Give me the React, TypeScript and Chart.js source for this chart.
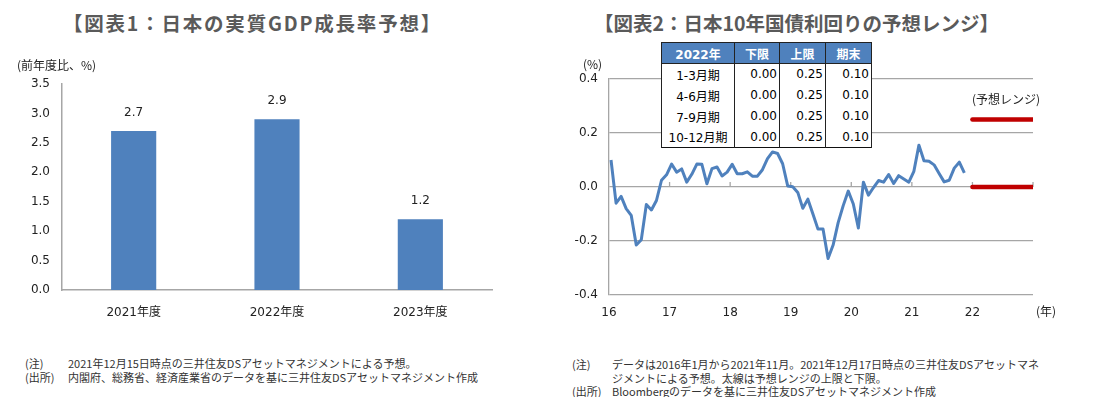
import React, { useEffect, useRef } from 'react';
import { Chart, registerables } from 'chart.js';

Chart.register(...registerables);

// ---------- Data: chart 1 ----------
const gdpCategories = ['2021年度', '2022年度', '2023年度'];
const gdpValues = [2.7, 2.9, 1.2];
const gdpAxisMin = 0;
const gdpAxisMax = 3.5;
const gdpAxisStep = 0.5;

// ---------- Data: chart 2 ----------
const yieldStartYear = 2016; // monthly data, Jan 2016 – Nov 2021
const yieldValues = [
  0.100, -0.060, -0.035, -0.080, -0.105, -0.215, -0.195, -0.065, -0.085, -0.050, 0.025, 0.045,
  0.085, 0.055, 0.067, 0.018, 0.047, 0.085, 0.084, 0.012, 0.068, 0.074, 0.041, 0.055,
  0.084, 0.049, 0.049, 0.056, 0.040, 0.040, 0.064, 0.105, 0.130, 0.124, 0.086, 0.004,
  0.001, -0.020, -0.079, -0.045, -0.100, -0.156, -0.156, -0.265, -0.215, -0.132, -0.069, -0.015,
  -0.063, -0.152, 0.018, -0.030, -0.002, 0.024, 0.018, 0.046, 0.013, 0.042, 0.030, 0.018,
  0.058, 0.155, 0.097, 0.095, 0.082, 0.050, 0.019, 0.025, 0.070, 0.092, 0.052,
];
const rangeUpper = 0.25;
const rangeLower = 0.0;
const rangeStartYear = 2022;
const rangeEndYear = 2023;
const yieldAxisMin = -0.4;
const yieldAxisMax = 0.4;
const yieldAxisStep = 0.2;
const yearAxisMin = 2016;
const yearAxisMax = 2023;

// ---------- Data: table ----------
const tableHeader = ['2022年', '下限', '上限', '期末'];
const tablePeriods = ['1-3月期', '4-6月期', '7-9月期', '10-12月期'];
const tableLower = [0.0, 0.0, 0.0, 0.0];
const tableUpper = [0.25, 0.25, 0.25, 0.25];
const tableEnd = [0.1, 0.1, 0.1, 0.1];

const FONT = '"DejaVu Sans", "Noto Sans CJK JP", sans-serif';
const JP = '"Noto Sans CJK JP", "DejaVu Sans", sans-serif';
const AXIS_GRAY = '#a6a6a6';
const BLUE = '#4F81BD';
const RED = '#C00000';

const barLabelPlugin = {
  id: 'barLabels',
  afterDatasetsDraw(chart: any) {
    const { ctx } = chart;
    const meta = chart.getDatasetMeta(0);
    ctx.save();
    ctx.font = `12px ${FONT}`;
    ctx.fillStyle = '#222';
    ctx.textAlign = 'center';
    ctx.textBaseline = 'middle';
    meta.data.forEach((el: any, i: number) => {
      ctx.fillText(gdpValues[i].toFixed(1), el.x, el.y - 18);
    });
    ctx.restore();
  },
};

const zeroTickPlugin = {
  id: 'zeroTicks',
  beforeDatasetsDraw(chart: any) {
    const { ctx, scales } = chart;
    const y0 = scales.y.getPixelForValue(0);
    ctx.save();
    ctx.strokeStyle = AXIS_GRAY;
    ctx.lineWidth = 1.3;
    for (let yr = yearAxisMin + 1; yr <= yearAxisMax; yr++) {
      const x = scales.x.getPixelForValue(yr);
      ctx.beginPath();
      ctx.moveTo(x, y0);
      ctx.lineTo(x, y0 - 5);
      ctx.stroke();
    }
    ctx.restore();
  },
};

function GdpChart() {
  const ref = useRef<HTMLCanvasElement>(null);
  useEffect(() => {
    const chart = new Chart(ref.current!, {
      type: 'bar',
      data: {
        labels: gdpCategories,
        datasets: [
          {
            data: gdpValues,
            backgroundColor: BLUE,
            categoryPercentage: 1,
            barPercentage: 0.315,
          },
        ],
      },
      options: {
        animation: false,
        responsive: false,
        devicePixelRatio: 1,
        layout: { padding: { top: 44, right: 58, bottom: 0, left: 0 } },
        plugins: { legend: { display: false }, tooltip: { enabled: false } },
        scales: {
          y: {
            min: gdpAxisMin,
            max: gdpAxisMax,
            afterFit: (s: any) => {
              s.width = 62;
            },
            ticks: {
              stepSize: gdpAxisStep,
              color: '#222',
              font: { size: 12, family: FONT },
              padding: 12,
              callback: (v: any) => Number(v).toFixed(1),
            },
            grid: { display: false, drawTicks: false },
            border: { display: true, color: AXIS_GRAY, width: 1.5 },
          },
          x: {
            afterFit: (s: any) => {
              s.height = 30;
            },
            ticks: { color: '#222', font: { size: 12, family: FONT }, padding: 16 },
            grid: { display: false, drawTicks: false },
            border: { display: true, color: AXIS_GRAY, width: 1.5 },
          },
        },
      },
      plugins: [barLabelPlugin],
    } as any);
    return () => chart.destroy();
  }, []);
  return (
    <canvas
      ref={ref}
      width={550}
      height={280}
      style={{ position: 'absolute', left: 0, top: 40, width: 550, height: 280 }}
    />
  );
}

function YieldChart() {
  const ref = useRef<HTMLCanvasElement>(null);
  useEffect(() => {
    const linePoints = yieldValues.map((v, i) => ({ x: yieldStartYear + (i + 0.4) / 12, y: v }));
    const chart = new Chart(ref.current!, {
      type: 'line',
      data: {
        datasets: [
          {
            data: linePoints,
            borderColor: BLUE,
            borderWidth: 3,
            pointRadius: 0,
            tension: 0,
            borderJoinStyle: 'round',
          },
          {
            data: [
              { x: rangeStartYear, y: rangeUpper },
              { x: rangeEndYear, y: rangeUpper },
            ],
            borderColor: RED,
            borderWidth: 4.5,
            pointRadius: 0,
            borderCapStyle: 'round',
          },
          {
            data: [
              { x: rangeStartYear, y: rangeLower },
              { x: rangeEndYear, y: rangeLower },
            ],
            borderColor: RED,
            borderWidth: 4.5,
            pointRadius: 0,
            borderCapStyle: 'round',
          },
        ],
      },
      options: {
        animation: false,
        responsive: false,
        devicePixelRatio: 1,
        layout: { padding: { top: 39, right: 66, bottom: 0, left: 0 } },
        plugins: { legend: { display: false }, tooltip: { enabled: false } },
        scales: {
          y: {
            min: yieldAxisMin,
            max: yieldAxisMax,
            afterFit: (s: any) => {
              s.width = 59;
            },
            ticks: {
              stepSize: yieldAxisStep,
              color: '#222',
              font: { size: 12, family: FONT },
              padding: 11,
              callback: (v: any) => (Math.abs(Number(v)) < 1e-9 ? '0.0' : Number(v).toFixed(1)),
            },
            grid: { color: AXIS_GRAY, lineWidth: 1.3, drawTicks: false },
            border: { display: true, color: AXIS_GRAY, width: 1.3 },
          },
          x: {
            type: 'linear',
            min: yearAxisMin,
            max: yearAxisMax,
            afterFit: (s: any) => {
              s.height = 30;
            },
            ticks: {
              stepSize: 1,
              color: '#222',
              font: { size: 12, family: FONT },
              padding: 11,
              callback: (v: any) => (Number(v) < yearAxisMax ? String(Number(v) - 2000) : ''),
            },
            grid: { display: false, drawTicks: false },
            border: { display: false },
          },
        },
      },
      plugins: [zeroTickPlugin],
    } as any);
    return () => chart.destroy();
  }, []);
  return (
    <canvas
      ref={ref}
      width={549}
      height={285}
      style={{ position: 'absolute', left: 550, top: 40, width: 549, height: 285 }}
    />
  );
}

function Txt(props: { x: number; y: number; size?: number; bold?: boolean; color?: string; children: any; font?: string }) {
  const size = props.size ?? 12;
  return (
    <div
      style={{
        position: 'absolute',
        left: props.x,
        top: props.y - 8,
        lineHeight: '16px',
        height: 16,
        fontSize: size,
        fontWeight: props.bold ? 700 : 400,
        color: props.color ?? '#333',
        fontFamily: props.font ?? JP,
        whiteSpace: 'nowrap',
      }}
    >
      {props.children}
    </div>
  );
}

function RangeTable() {
  const colW = [73, 45, 46, 46];
  const rowH = 21;
  const cellBase: any = {
    height: rowH,
    padding: 0,
    fontSize: 12,
    fontFamily: FONT,
    boxSizing: 'border-box',
    whiteSpace: 'nowrap',
  };
  return (
    <table
      style={{
        position: 'absolute',
        left: 661,
        top: 42,
        borderCollapse: 'collapse',
        tableLayout: 'fixed',
        width: 210,
        background: '#fff',
        border: '1.5px solid #111',
      }}
    >
      <colgroup>
        {colW.map((w, i) => (
          <col key={i} style={{ width: w }} />
        ))}
      </colgroup>
      <thead>
        <tr>
          {tableHeader.map((h, i) => (
            <th
              key={i}
              style={{
                ...cellBase,
                background: BLUE,
                color: '#fff',
                fontWeight: 700,
                textAlign: 'center',
                border: '1px solid #222',
              }}
            >
              {h}
            </th>
          ))}
        </tr>
      </thead>
      <tbody>
        {tablePeriods.map((p, r) => (
          <tr key={r}>
            <td style={{ ...cellBase, textAlign: 'center', color: '#000', borderLeft: '1px solid #222', borderRight: '1px solid #222' }}>{p}</td>
            {[tableLower[r], tableUpper[r], tableEnd[r]].map((v, c) => (
              <td
                key={c}
                style={{
                  ...cellBase,
                  textAlign: 'right',
                  paddingRight: 2,
                  color: '#000',
                  borderLeft: '1px solid #222',
                  borderRight: '1px solid #222',
                }}
              >
                {v.toFixed(2)}
              </td>
            ))}
          </tr>
        ))}
      </tbody>
    </table>
  );
}

export default function App() {
  const titleStyle: any = {
    position: 'absolute',
    top: 9,
    lineHeight: '28px',
    fontSize: 19.5,
    fontWeight: 700,
    color: '#5a5a5a',
    fontFamily: JP,
    textAlign: 'center',
    whiteSpace: 'nowrap',
  };
  return (
    <div style={{ position: 'absolute', left: 0, top: 0, width: 1099, height: 397, background: '#fff', overflow: 'hidden' }}>
      <div style={{ ...titleStyle, left: 0, width: 505, letterSpacing: '1.8px' }}>【図表1：日本の実質GDP成長率予想】</div>
      <div style={{ ...titleStyle, left: 594, width: 400 }}>【図表2：日本10年国債利回りの予想レンジ】</div>

      <GdpChart />
      <YieldChart />

      <Txt x={17} y={65} color="#222">(前年度比、%)</Txt>
      <Txt x={583} y={64} color="#222">(%)</Txt>
      <Txt x={1036} y={311} color="#222">(年)</Txt>
      <Txt x={972} y={99} color="#222">(予想レンジ)</Txt>

      <RangeTable />

      <Txt x={25} y={363} size={11}>(注)</Txt>
      <Txt x={68} y={363} size={11}>2021年12月15日時点の三井住友DSアセットマネジメントによる予想。</Txt>
      <Txt x={25} y={377} size={11}>(出所)</Txt>
      <Txt x={68} y={377} size={11}>内閣府、総務省、経済産業省のデータを基に三井住友DSアセットマネジメント作成</Txt>

      <Txt x={572} y={364} size={11}>(注)</Txt>
      <Txt x={612} y={364} size={11}>データは2016年1月から2021年11月。2021年12月17日時点の三井住友DSアセットマネ</Txt>
      <Txt x={612} y={378} size={11}>ジメントによる予想。太線は予想レンジの上限と下限。</Txt>
      <Txt x={572} y={391} size={11}>(出所)</Txt>
      <Txt x={612} y={391} size={11}>Bloombergのデータを基に三井住友DSアセットマネジメント作成</Txt>
    </div>
  );
}
